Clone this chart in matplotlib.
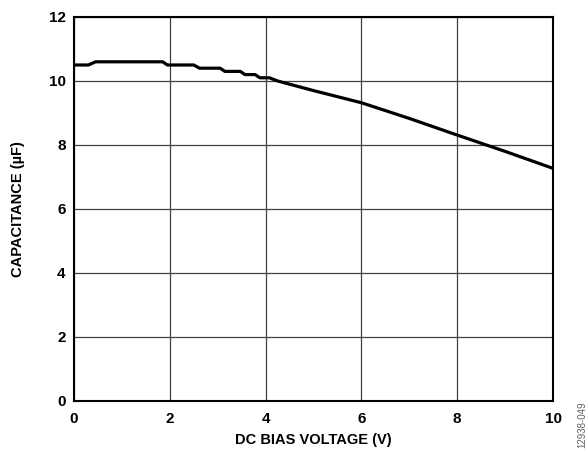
import matplotlib
matplotlib.use("Agg")
import matplotlib.pyplot as plt

voltage = [0.0, 0.3, 0.45, 1.85, 1.95, 2.5, 2.62, 3.05, 3.15, 3.47, 3.57, 3.78, 3.88, 4.08, 4.25,
           5.0, 6.0, 7.0, 8.0, 9.0, 10.0]
capacitance = [10.5, 10.5, 10.6, 10.6, 10.5, 10.5, 10.4, 10.4, 10.3, 10.3, 10.2, 10.2, 10.1, 10.1, 10.0,
               9.7, 9.32, 8.83, 8.31, 7.8, 7.27]
xticks = [0, 2, 4, 6, 8, 10]
yticks = [0, 2, 4, 6, 8, 10, 12]

plt.rcParams['font.family'] = ['Liberation Sans', 'DejaVu Sans']
fig = plt.figure(figsize=(5.88, 4.53), dpi=100)
ax = fig.add_axes([0.1259, 0.1148, 0.8146, 0.8477])
ax.plot(voltage, capacitance, color='black', lw=2.3, solid_joinstyle='round', zorder=3)
ax.set_xlim(0, 10)
ax.set_ylim(0, 12)
ax.set_xticks(xticks)
ax.set_yticks(yticks)
ax.grid(True, color='#404040', lw=0.9)
for s in ax.spines.values():
    s.set_linewidth(1.5)
    s.set_color('black')
ax.tick_params(axis='y', length=0, pad=6, labelsize=11)
ax.tick_params(axis='x', length=0, pad=8, labelsize=11)
for lbl in ax.get_xticklabels() + ax.get_yticklabels():
    lbl.set_fontweight('bold')
ax.set_xlabel('DC BIAS VOLTAGE (V)', fontsize=10.5, fontweight='bold', labelpad=5)
ax.set_ylabel('CAPACITANCE (µF)', fontsize=10.5, fontweight='bold', labelpad=17)
fig.text(0.991, 0.01, '12938-049', rotation=90, fontsize=7, color='#606060', ha='center', va='bottom')
fig.savefig('out.png', dpi=100)
